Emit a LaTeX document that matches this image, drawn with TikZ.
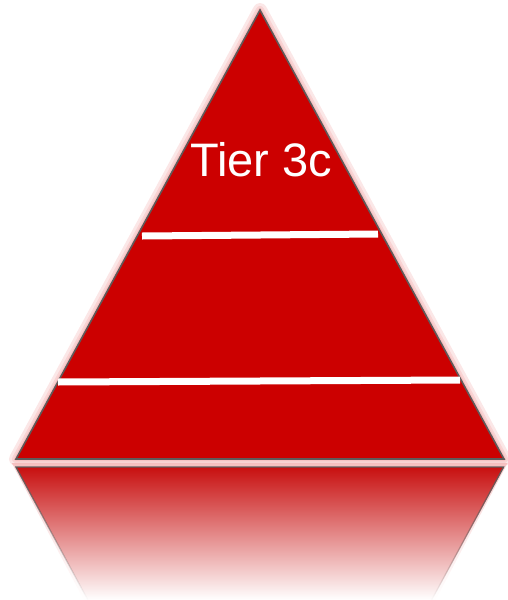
\documentclass[tikz,border=0pt]{standalone}
\usepackage{fontspec}
\setmainfont{Liberation Sans}
\usetikzlibrary{fadings}
\definecolor{tierred}{RGB}{204, 0, 0}
\definecolor{mirrorred}{RGB}{200, 16, 16}
\definecolor{edgegray}{RGB}{95, 90, 90}
\definecolor{glowpink}{RGB}{235, 120, 120}
\tikzfading[name=mirrorfade, top color=transparent!0, bottom color=transparent!100]

\begin{document}
\begin{tikzpicture}[x=1pt, y=-1pt,
		glow/.style={draw=glowpink, line width=#1, line join=round, opacity=0.18},
		tieredge/.style={draw=edgegray, line width=1.6pt, line join=miter},
		divider/.style={draw=white, line width=7pt},
		font=\fontsize{47}{50}\selectfont]
	%Bildbereich
	\useasboundingbox (0,0) rectangle (507,600);
	% Spiegelung unten
	\fill[glowpink, opacity=0.35, path fading=mirrorfade] (12,463) -- (508,463) -- (436,600) -- (84,600) -- cycle;
	\shade[top color=mirrorred, bottom color=white] (16,467) -- (504,467) -- (432,600) -- (88,600) -- cycle;
	\draw[tieredge, line width=1.3pt, path fading=mirrorfade] (88,600) -- (16,467) -- (504,467) -- (432,600);
	% Leuchten um das Dreieck
	\draw[glow=14pt] (260,10) -- (504,459) -- (16,459) -- cycle;
	\draw[glow=8pt] (260,10) -- (504,459) -- (16,459) -- cycle;
	\draw[glow=4pt] (260,10) -- (504,459) -- (16,459) -- cycle;
	% Dreieck
	\fill[tierred] (260,10) -- (504,459) -- (16,459) -- cycle;
	\draw[tieredge] (260,10) -- (504,459) -- (16,459) -- cycle;
	% Trennlinien
	\draw[divider] (142,236) -- (378,234);
	\draw[divider] (58,382) -- (460,380);
	% Beschriftung
	\node[white, inner sep=0pt] (tier) at (261,160) {Tier 3c};
\end{tikzpicture}
\end{document}
